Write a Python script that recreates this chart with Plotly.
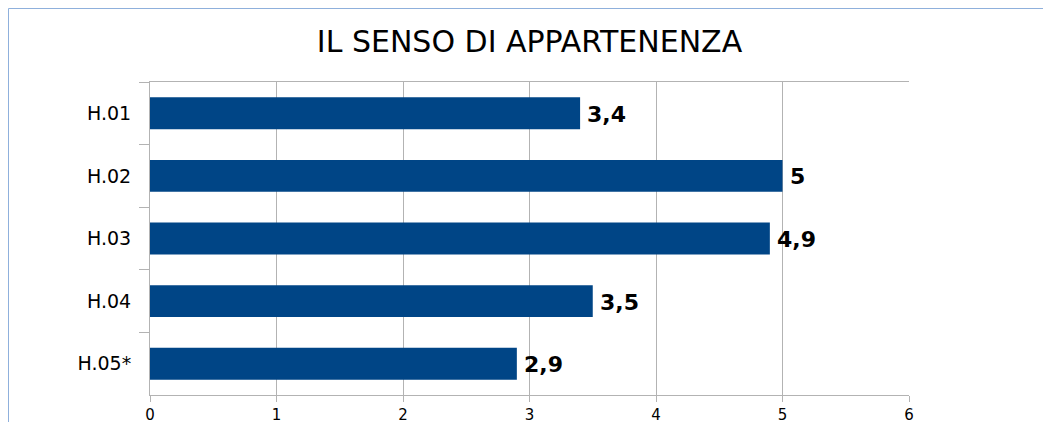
import plotly.graph_objects as go

categories = ["H.01", "H.02", "H.03", "H.04", "H.05*"]
values = [3.4, 5.0, 4.9, 3.5, 2.9]
value_labels = ["3,4", "5", "4,9", "3,5", "2,9"]
x_ticks = [0, 1, 2, 3, 4, 5, 6]

BAR = "#004586"
GRID = "#b3b3b3"

W, H = 1051, 422
ML, MR, MT, MB = 142, 150, 74, 35
PW, PH = W - ML - MR, H - MT - MB

fig = go.Figure(go.Bar(
    x=values, y=categories, orientation="h",
    marker=dict(color=BAR, line=dict(width=0)),
    width=0.51, hoverinfo="skip",
))

for c, v, t in zip(categories, values, value_labels):
    fig.add_annotation(x=v, y=c, text=t, showarrow=False, xanchor="left",
                       xshift=5, yshift=-1,
                       font=dict(family="DejaVu Sans", size=22, color="#000000", weight="bold"))

fig.add_shape(type="rect", xref="paper", yref="paper",
              x0=(0.5 - ML) / PW, x1=2.0, y0=-1.0, y1=1 + (MT - 0.5) / PH,
              line=dict(color="#8fb0dc", width=1), fillcolor="rgba(0,0,0,0)", layer="below")

fig.update_layout(
    width=W, height=H,
    margin=dict(l=ML, r=MR, t=MT, b=MB, autoexpand=False),
    paper_bgcolor="white", plot_bgcolor="white",
    showlegend=False,
    title=dict(text="IL SENSO DI APPARTENENZA", x=(529.5 - 8) / W, xanchor="center",
               y=1 - 33.5 / H, yanchor="middle", automargin=False,
               font=dict(family="DejaVu Sans", size=30, color="#000000")),
    xaxis=dict(range=[0, 6], tickvals=x_ticks, ticktext=[str(t) for t in x_ticks],
               showgrid=True, gridcolor=GRID, gridwidth=1,
               showline=True, linecolor=GRID, linewidth=1, mirror=True,
               ticks="outside", ticklen=6, tickcolor=GRID,
               tickfont=dict(family="DejaVu Sans", size=15, color="#000000"),
               zeroline=False, fixedrange=True, automargin=False),
    yaxis=dict(autorange="reversed", categoryorder="array", categoryarray=categories,
               showgrid=False, showline=True, linecolor=GRID, linewidth=1,
               ticks="outside", ticklen=10, tickcolor=GRID, tickson="boundaries",
               ticklabelstandoff=14, automargin=False,
               tickfont=dict(family="DejaVu Sans", size=19, color="#000000"),
               fixedrange=True),
)

fig.write_html("out.html")
